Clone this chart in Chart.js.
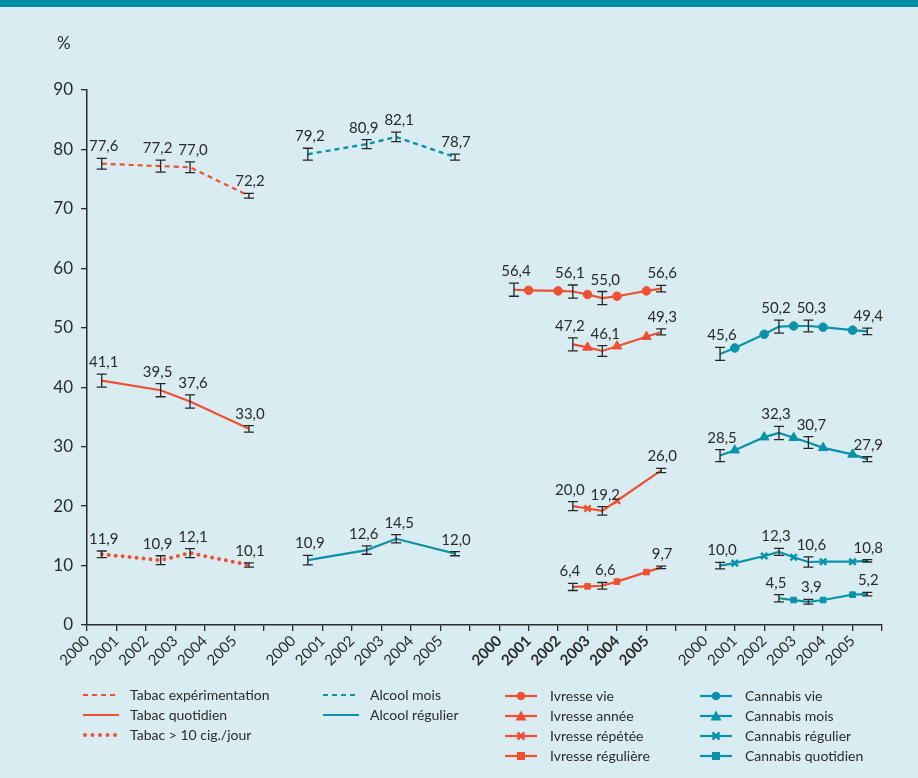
<!DOCTYPE html>
<html>
<head>
<meta charset="utf-8">
<script src="https://cdn.jsdelivr.net/npm/chart.js@4"></script>
<style>
  body { margin: 0; background: #d9ecf2; font-family: Lato, sans-serif; color: #2b2b2b; }
  #wrap { position: relative; width: 918px; height: 778px; overflow: hidden; }
  #topbar { position: absolute; left: 0; top: 0; width: 918px; height: 7px; background: #008ca8; }
  #chart { position: absolute; left: 0; top: 0; }
  #pct { position: absolute; left: 57px; top: 32px; font-size: 17px; }
  .leg { position: absolute; font-size: 14px; line-height: 20px; white-space: nowrap; }
  .leg svg { position: absolute; top: 2px; }
</style>
</head>
<body>
<div id="wrap">
  <canvas id="chart" width="918" height="778"></canvas>
  <div id="topbar"></div>
  <div id="pct">%</div>
  <div id="legend"></div>
</div>
<script>
// DONNEES
const years = ["2000", "2001", "2002", "2003", "2004", "2005"];
// enquetes 2000, 2002, 2003, 2005 -> placees au milieu de l'annee
const surveyOffsets = [0.5, 2.5, 3.5, 5.5];
const markerOffsets = [1, 2, 3, 4, 5];

const tabacExp = [77.6, 77.2, 77.0, 72.2];
const tabacExpErr = [0.9, 1.0, 0.9, 0.4];
const tabacQuot = [41.1, 39.5, 37.6, 33.0];
const tabacQuotErr = [1.1, 1.1, 1.1, 0.55];
const tabac10 = [11.9, 10.9, 12.1, 10.1];
const tabac10Err = [0.55, 0.75, 0.75, 0.35];

const alcoolMois = [79.2, 80.9, 82.1, 78.7];
const alcoolMoisErr = [1.0, 0.75, 0.8, 0.5];
const alcoolReg = [10.9, 12.6, 14.5, 12.0];
const alcoolRegErr = [0.8, 0.7, 0.7, 0.35];

const ivresseVie = [56.4, 56.1, 55.0, 56.6];
const ivresseVieErr = [1.1, 1.1, 1.1, 0.55];
const ivresseVieMk = [56.3, 56.2, 55.6, 55.3, 56.2];
const ivresseAnnee = [null, 47.2, 46.1, 49.3];
const ivresseAnneeErr = [0, 1.1, 0.9, 0.5];
const ivresseAnneeMk = [null, null, 46.7, 46.9, 48.5];
const ivresseRep = [null, 20.0, 19.2, 26.0];
const ivresseRepErr = [0, 0.75, 0.7, 0.35];
const ivresseRepMk = [null, null, 19.6, 20.9, null];
const ivresseReg = [null, 6.4, 6.6, 9.7];
const ivresseRegErr = [0, 0.6, 0.55, 0.2];
const ivresseRegMk = [null, null, 6.5, 7.3, 8.9];

const cannabisVie = [45.6, 50.2, 50.3, 49.4];
const cannabisVieErr = [1.1, 1.1, 1.0, 0.55];
const cannabisVieMk = [46.6, 48.9, 50.3, 50.1, 49.6];
const cannabisMois = [28.5, 32.3, 30.7, 27.9];
const cannabisMoisErr = [1.0, 1.1, 1.0, 0.4];
const cannabisMoisMk = [29.4, 31.6, 31.5, 29.8, 28.7];
const cannabisReg = [10.0, 12.3, 10.6, 10.8];
const cannabisRegErr = [0.55, 0.6, 0.85, 0.2];
const cannabisRegMk = [10.4, 11.6, 11.4, 10.65, 10.65];
const cannabisQuot = [null, 4.5, 3.9, 5.2];
const cannabisQuotErr = [0, 0.6, 0.4, 0.3];
const cannabisQuotMk = [null, null, 4.2, 4.2, 5.1];

const RED = "#ef5032";
const TEAL = "#0a93a8";
const FONT = "Lato, sans-serif";
const INK = "#2b2b2b";
// decalage horizontal des etiquettes selon l'enquete (evite les chevauchements 2002/2003)
const labelShift = [2, -3, 3, 1];

// 4 blocs de 6 annees + une graduation vide entre chaque bloc
const tickLabels = [];
for (let g = 0; g < 4; g++) {
  years.forEach((y) => tickLabels.push(y));
  tickLabels.push("");
}

// construit les points d'une serie (enquetes + marqueurs) pour le bloc g
function buildPoints(g, values, marks) {
  const pts = [];
  values.forEach((v, i) => {
    if (v !== null) pts.push({ x: g * 7 + surveyOffsets[i], y: v, mk: false });
  });
  (marks || []).forEach((v, i) => {
    if (v !== null) pts.push({ x: g * 7 + markerOffsets[i], y: v, mk: true });
  });
  pts.sort((a, b) => a.x - b.x);
  return pts;
}

const series = [
  { g: 0, v: tabacExp, e: tabacExpErr, color: RED, dash: [5, 4], width: 2.2 },
  { g: 0, v: tabacQuot, e: tabacQuotErr, color: RED, dash: [], width: 2.2 },
  { g: 0, v: tabac10, e: tabac10Err, color: RED, dash: [0, 7], width: 4, cap: "round" },
  { g: 1, v: alcoolMois, e: alcoolMoisErr, color: TEAL, dash: [5, 4], width: 2.4 },
  { g: 1, v: alcoolReg, e: alcoolRegErr, color: TEAL, dash: [], width: 2.2 },
  { g: 2, v: ivresseVie, e: ivresseVieErr, m: ivresseVieMk, color: RED, style: "circle" },
  { g: 2, v: ivresseAnnee, e: ivresseAnneeErr, m: ivresseAnneeMk, color: RED, style: "triangle" },
  { g: 2, v: ivresseRep, e: ivresseRepErr, m: ivresseRepMk, color: RED, style: "crossRot" },
  { g: 2, v: ivresseReg, e: ivresseRegErr, m: ivresseRegMk, color: RED, style: "rect" },
  { g: 3, v: cannabisVie, e: cannabisVieErr, m: cannabisVieMk, color: TEAL, style: "circle" },
  { g: 3, v: cannabisMois, e: cannabisMoisErr, m: cannabisMoisMk, color: TEAL, style: "triangle" },
  { g: 3, v: cannabisReg, e: cannabisRegErr, m: cannabisRegMk, color: TEAL, style: "crossRot" },
  { g: 3, v: cannabisQuot, e: cannabisQuotErr, m: cannabisQuotMk, color: TEAL, style: "rect" },
];

const datasets = series.map((s) => ({
  data: buildPoints(s.g, s.v, s.m),
  borderColor: s.color,
  backgroundColor: s.color,
  borderWidth: s.width || 2.2,
  borderDash: s.dash || [],
  borderCapStyle: s.cap || "butt",
  tension: 0,
  pointStyle: s.style || "circle",
  pointRadius: (ctx) => {
    const p = ctx.raw;
    if (!p || !p.mk) return 0;
    return s.style === "rect" ? 4 : s.style === "triangle" ? 5.5 : s.style === "crossRot" ? 4.5 : 4.3;
  },
  pointBorderWidth: s.style === "crossRot" ? 2.5 : 1,
  pointBorderColor: s.color,
  pointBackgroundColor: s.color,
}));

// barres d'erreur + etiquettes de valeur
const errorBars = {
  id: "errorBars",
  afterDatasetsDraw(chart) {
    const ctx = chart.ctx;
    const xs = chart.scales.x;
    const ys = chart.scales.y;
    ctx.save();
    series.forEach((s) => {
      s.v.forEach((v, i) => {
        if (v === null) return;
        const x = xs.getPixelForValue(s.g * 7 + surveyOffsets[i]);
        const top = ys.getPixelForValue(v + s.e[i]);
        const bot = ys.getPixelForValue(v - s.e[i]);
        ctx.strokeStyle = "#262626";
        ctx.lineWidth = 1.3;
        ctx.setLineDash([]);
        ctx.beginPath();
        ctx.moveTo(x, top);
        ctx.lineTo(x, bot);
        ctx.moveTo(x - 5, top);
        ctx.lineTo(x + 5, top);
        ctx.moveTo(x - 5, bot);
        ctx.lineTo(x + 5, bot);
        ctx.stroke();
        ctx.fillStyle = INK;
        ctx.font = "15px " + FONT;
        ctx.textAlign = "center";
        ctx.textBaseline = "alphabetic";
        ctx.fillText(v.toFixed(1).replace(".", ","), x + labelShift[i], top - 7);
      });
    });
    ctx.restore();
  },
};

new Chart(document.getElementById("chart"), {
  type: "line",
  data: { datasets },
  options: {
    responsive: false,
    animation: false,
    devicePixelRatio: 1,
    layout: { padding: { top: 90, right: 36, left: 0, bottom: 0 } },
    plugins: { legend: { display: false }, tooltip: { enabled: false } },
    scales: {
      x: {
        type: "linear",
        min: 0,
        max: 27,
        afterFit: (s) => { s.height = 153; },
        border: { color: INK, width: 1.5 },
        grid: { drawOnChartArea: false, color: INK, tickLength: 6, lineWidth: 1.3 },
        ticks: {
          stepSize: 1,
          autoSkip: false,
          maxRotation: 45,
          minRotation: 45,
          padding: 1,
          color: INK,
          font: (c) => ({ family: FONT, size: 15, weight: c.index >= 14 && c.index <= 19 ? "bold" : "normal" }),
          callback: (v) => tickLabels[v],
        },
      },
      y: {
        min: 0,
        max: 90,
        afterFit: (s) => { s.width = 87; },
        border: { color: INK, width: 1.5 },
        grid: { drawOnChartArea: false, color: INK, tickLength: 6, lineWidth: 1.3 },
        ticks: { stepSize: 10, padding: 8, color: INK, font: { family: FONT, size: 17 } },
      },
    },
  },
  plugins: [errorBars],
});

// LEGENDE
const legendItems = [
  { x: 83, y: 685, label: "Tabac expérimentation", color: RED, kind: "dash" },
  { x: 83, y: 705, label: "Tabac quotidien", color: RED, kind: "solid" },
  { x: 83, y: 725, label: "Tabac > 10 cig./jour", color: RED, kind: "dot" },
  { x: 323, y: 685, label: "Alcool mois", color: TEAL, kind: "dash" },
  { x: 323, y: 705, label: "Alcool régulier", color: TEAL, kind: "solid" },
  { x: 505, y: 686, label: "Ivresse vie", color: RED, kind: "circle" },
  { x: 505, y: 706, label: "Ivresse année", color: RED, kind: "triangle" },
  { x: 505, y: 726, label: "Ivresse répétée", color: RED, kind: "cross" },
  { x: 505, y: 746, label: "Ivresse régulière", color: RED, kind: "rect" },
  { x: 700, y: 686, label: "Cannabis vie", color: TEAL, kind: "circle" },
  { x: 700, y: 706, label: "Cannabis mois", color: TEAL, kind: "triangle" },
  { x: 700, y: 726, label: "Cannabis régulier", color: TEAL, kind: "cross" },
  { x: 700, y: 746, label: "Cannabis quotidien", color: TEAL, kind: "rect" },
];

function sampleSvg(kind, c) {
  let w = kind === "dash" || kind === "solid" || kind === "dot" ? 36 : 32;
  let s = '<svg width="' + w + '" height="16" viewBox="0 0 ' + w + ' 16">';
  if (kind === "dash") s += '<line x1="0" y1="8" x2="36" y2="8" stroke="' + c + '" stroke-width="2" stroke-dasharray="5 4"/>';
  else if (kind === "dot") s += '<line x1="2" y1="8" x2="36" y2="8" stroke="' + c + '" stroke-width="4" stroke-linecap="round" stroke-dasharray="0 7.5"/>';
  else s += '<line x1="0" y1="8" x2="' + w + '" y2="8" stroke="' + c + '" stroke-width="2.2"/>';
  if (kind === "circle") s += '<circle cx="16" cy="8" r="4.3" fill="' + c + '"/>';
  if (kind === "triangle") s += '<polygon points="16,2.5 21.5,12.5 10.5,12.5" fill="' + c + '"/>';
  if (kind === "rect") s += '<rect x="12" y="4" width="8" height="8" fill="' + c + '"/>';
  if (kind === "cross") s += '<path d="M12.5 4.5 L19.5 11.5 M19.5 4.5 L12.5 11.5" stroke="' + c + '" stroke-width="2.5"/>';
  return s + "</svg>";
}

const legend = document.getElementById("legend");
legendItems.forEach((it) => {
  const d = document.createElement("div");
  d.className = "leg";
  d.style.left = it.x + "px";
  d.style.top = it.y + "px";
  const textLeft = it.kind === "dash" || it.kind === "solid" || it.kind === "dot" ? 47 : 45;
  d.innerHTML = sampleSvg(it.kind, it.color) + '<span style="position:absolute;left:' + textLeft + 'px;top:0">' + it.label + "</span>";
  legend.appendChild(d);
});
</script>
</body>
</html>
